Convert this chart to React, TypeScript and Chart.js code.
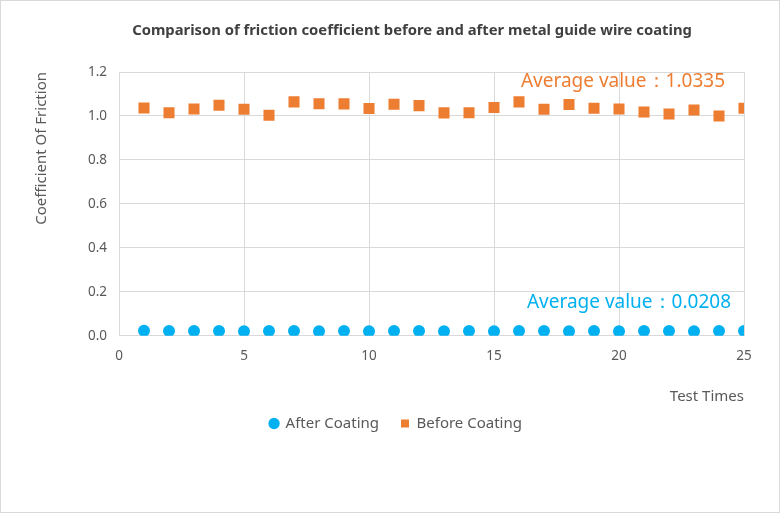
import React, { useEffect, useRef } from "react";
import { Chart, registerables } from "chart.js";

Chart.register(...registerables);

const testTimes = [1,2,3,4,5,6,7,8,9,10,11,12,13,14,15,16,17,18,19,20,21,22,23,24,25];
const afterCoating = [0.022,0.021,0.021,0.021,0.020,0.021,0.021,0.020,0.021,0.020,0.021,0.021,0.020,0.021,0.020,0.021,0.021,0.020,0.021,0.020,0.021,0.021,0.020,0.021,0.021];
const beforeCoating = [1.036,1.015,1.032,1.049,1.030,1.003,1.064,1.056,1.055,1.034,1.053,1.047,1.014,1.015,1.038,1.064,1.030,1.052,1.035,1.032,1.018,1.009,1.027,1.000,1.035];
const avgBefore = 1.0335;
const avgAfter = 0.0208;
const titleText = "Comparison of friction coefficient before and after metal guide wire coating";
const yTitle = "Coefficient Of Friction";
const xTitle = "Test Times";
const seriesNames = ["After Coating", "Before Coating"];

const FONT = "'Noto Sans', 'Open Sans', sans-serif";
const TEXT = "#595959";
const BLUE = "#00B0F0";
const ORANGE = "#ED7D31";
const GRID = "#D9D9D9";

const decorPlugin = {
  id: "decor",
  beforeDraw(chart: any) {
    const { ctx, width, height } = chart;
    ctx.save();
    ctx.fillStyle = "#ffffff";
    ctx.fillRect(0, 0, width, height);
    ctx.restore();
  },
  afterDraw(chart: any) {
    const { ctx, width, height, chartArea, scales } = chart;
    ctx.save();
    ctx.strokeStyle = GRID;
    ctx.lineWidth = 1;
    ctx.strokeRect(0.5, 0.5, width - 1, height - 1);
    ctx.fillStyle = "#404040";
    ctx.font = `bold 14.8px ${FONT}`;
    ctx.textAlign = "center";
    ctx.textBaseline = "middle";
    ctx.fillText(titleText, 412, 31);
    ctx.font = `19px ${FONT}`;
    ctx.textAlign = "right";
    ctx.fillStyle = ORANGE;
    ctx.fillText("Average value：" + avgBefore.toFixed(4), chartArea.right - 19, scales.y.getPixelForValue(avgBefore) - 27);
    ctx.fillStyle = BLUE;
    ctx.fillText("Average value：" + avgAfter.toFixed(4), chartArea.right - 13, scales.y.getPixelForValue(avgAfter) - 29);
    ctx.restore();
  },
};

export default function App() {
  const ref = useRef<HTMLCanvasElement | null>(null);
  useEffect(() => {
    if (!ref.current) return;
    const chart = new Chart(ref.current, {
      type: "scatter",
      data: {
        datasets: [
          {
            label: seriesNames[0],
            data: testTimes.map((x, i) => ({ x, y: afterCoating[i] })),
            backgroundColor: BLUE,
            borderColor: BLUE,
            pointStyle: "circle",
            pointRadius: 6,
            pointHoverRadius: 6,
            borderWidth: 0,
          },
          {
            label: seriesNames[1],
            data: testTimes.map((x, i) => ({ x, y: beforeCoating[i] })),
            backgroundColor: ORANGE,
            borderColor: ORANGE,
            pointStyle: "rect",
            pointRadius: 7.8,
            pointHoverRadius: 7.8,
            borderWidth: 0,
          },
        ],
      },
      options: {
        responsive: false,
        animation: false,
        devicePixelRatio: 1,
        layout: { padding: { top: 72, right: 36, bottom: 72, left: 48 } },
        plugins: {
          title: { display: false },
          tooltip: { enabled: false },
          legend: {
            position: "bottom",
            labels: {
              usePointStyle: true,
              boxHeight: 8,
              boxWidth: 8,
              padding: 22,
              color: TEXT,
              font: { family: FONT, size: 15 },
            },
          },
        },
        scales: {
          x: {
            type: "linear",
            min: 0,
            max: 25,
            ticks: { stepSize: 5, color: TEXT, padding: 12, font: { family: FONT, size: 13.5 } },
            grid: { color: GRID, drawTicks: false },
            border: { color: GRID },
            title: {
              display: true,
              text: xTitle,
              align: "end",
              color: TEXT,
              font: { family: FONT, size: 15 },
              padding: { top: 11.5, bottom: -11.4 },
            },
          },
          y: {
            min: 0,
            max: 1.2,
            ticks: {
              stepSize: 0.2,
              color: TEXT,
              padding: 12,
              font: { family: FONT, size: 13.5 },
              callback: (v: any) => Number(v).toFixed(1),
            },
            grid: { color: GRID, drawTicks: false },
            border: { color: GRID },
            title: {
              display: true,
              text: yTitle,
              align: "end",
              color: TEXT,
              font: { family: FONT, size: 15 },
              padding: { top: -15, bottom: 0 },
            },
            afterFit: (scale: any) => {
              scale.width = 71;
            },
          },
        },
      },
      plugins: [decorPlugin],
    } as any);
    return () => chart.destroy();
  }, []);
  return (
    <div style={{ position: "fixed", left: 0, top: 0, width: 780, height: 513, background: "#fff" }}>
      <canvas ref={ref} width={780} height={513} style={{ display: "block", width: 780, height: 513 }} />
    </div>
  );
}
